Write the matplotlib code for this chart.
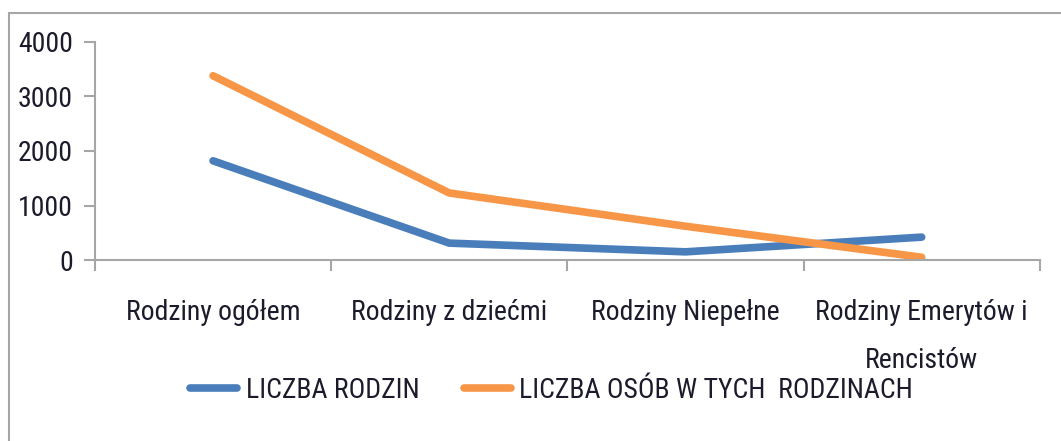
import os
import matplotlib.pyplot as plt
from matplotlib import font_manager
from matplotlib.font_manager import FontProperties
from matplotlib.patches import Rectangle

categories = ["Rodziny ogółem", "Rodziny z dziećmi", "Rodziny Niepełne",
              "Rodziny Emerytów i\nRencistów"]
liczba_rodzin = [1820, 310, 150, 420]
liczba_osob = [3380, 1230, 620, 50]
series_names = ["LICZBA RODZIN", "LICZBA OSÓB W TYCH  RODZINACH"]
yticks = [0, 1000, 2000, 3000, 4000]


def narrow_font(size):
    # look for a condensed sans face by file name
    wanted = ["LiberationSansNarrow-Regular", "RobotoCondensed-Regular",
              "ArchivoNarrow-Regular", "IBMPlexSansCondensed-Regular"]
    files = {os.path.basename(f.fname).rsplit(".", 1)[0]: f.fname
             for f in font_manager.fontManager.ttflist}
    for w in wanted:
        if w in files:
            return FontProperties(fname=files[w], size=size)
    return FontProperties(family="DejaVu Sans", size=size)


font = narrow_font(20)
text_color = "#1b1b2b"
grey = "#a6a6a6"

fig = plt.figure(figsize=(10.61, 4.41), dpi=100)
ax = fig.add_axes([0.0895, 0.4104, 0.8905, 0.4944])

# outer chart border
fig.patches.append(Rectangle((9 / 1061, -0.1), 1.2, 1 - 13 / 441 + 0.1,
                             transform=fig.transFigure, fill=False,
                             edgecolor=grey, linewidth=1.5))

x = range(len(categories))
ax.plot(x, liczba_rodzin, color="#4a7ebb", linewidth=5.5,
        solid_capstyle="round", label=series_names[0])
ax.plot(x, liczba_osob, color="#f79646", linewidth=5.5,
        solid_capstyle="round", label=series_names[1])

ax.set_xlim(-0.5, len(categories) - 0.5)
ax.set_ylim(0, 4000)
ax.set_yticks(yticks)
ax.set_yticklabels([str(v) for v in yticks], fontproperties=font, color=text_color)

ax.set_xticks([i - 0.5 for i in range(len(categories) + 1)])
ax.set_xticklabels([])
ax.set_xticks(list(x), minor=True)
ax.set_xticklabels(categories, minor=True, fontproperties=font, color=text_color,
                   linespacing=2.0, va="top")
ax.tick_params(axis="x", which="minor", length=0, pad=28)
ax.tick_params(axis="x", which="major", length=8, color=grey, width=1.5)
ax.tick_params(axis="y", length=8, color=grey, width=1.5, pad=8)

for side in ["top", "right"]:
    ax.spines[side].set_visible(False)
for side in ["left", "bottom"]:
    ax.spines[side].set_color(grey)
    ax.spines[side].set_linewidth(1.5)

leg = fig.legend(loc="center", bbox_to_anchor=(0.52, 0.115), ncol=2,
                 frameon=False, prop=font, handlelength=1.7,
                 columnspacing=1.6, handletextpad=0.3)
for t in leg.get_texts():
    t.set_color(text_color)

fig.savefig("out.png", dpi=100)
